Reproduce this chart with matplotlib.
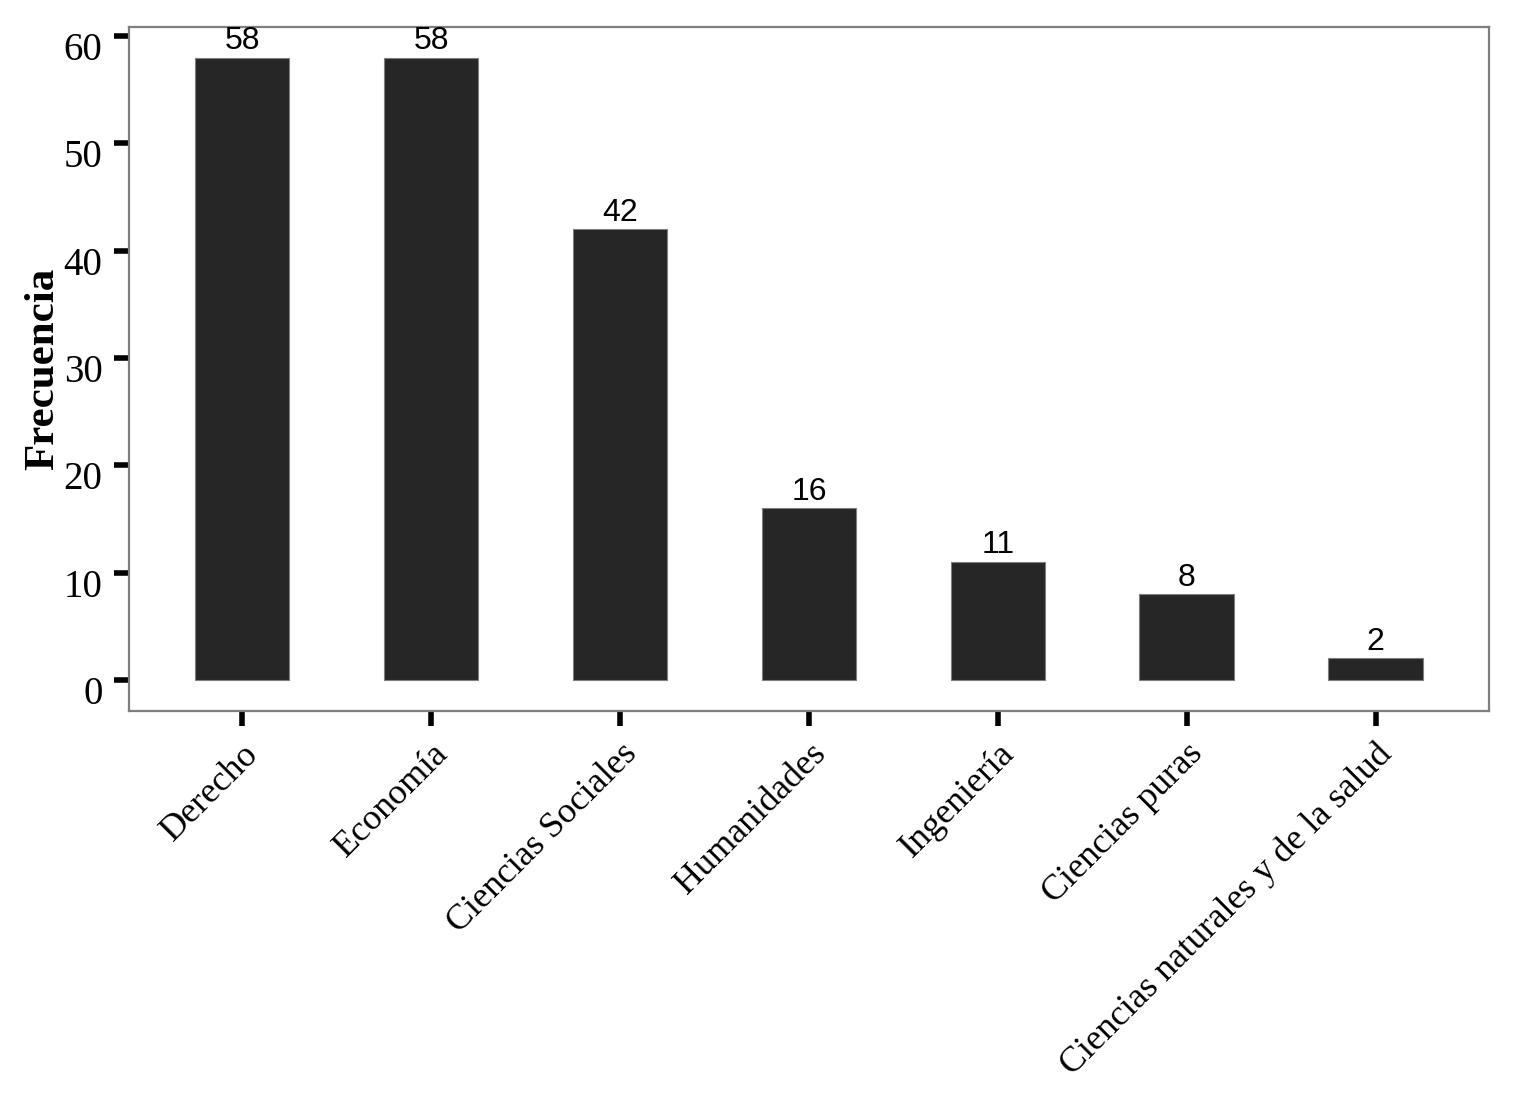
"""
Bar chart: frecuencia por área de estudio.
"""

import matplotlib.pyplot as plt
from matplotlib.transforms import ScaledTranslation

# Data
categorias = ['Derecho', 'Economía', 'Ciencias Sociales', 'Humanidades',
              'Ingeniería', 'Ciencias puras',
              'Ciencias naturales y de la salud']
frecuencias = [58, 58, 42, 16, 11, 8, 2]
y_ticks = [0, 10, 20, 30, 40, 50, 60]

fig = plt.figure(figsize=(15.17, 10.95), dpi=100)
ax = fig.add_axes([0.085, 0.3507, 0.8965, 0.6246])

# Bars
bars = ax.bar(range(len(categorias)), frecuencias, width=0.5,
              color='#262626', edgecolor='#7f7f7f', linewidth=0.8)
ax.bar_label(bars, labels=[str(v) for v in frecuencias], padding=1,
             fontsize=23, family='Liberation Sans', color='black')

ax.set_xlim(-0.6, 6.6)
ax.set_ylim(-2.9, 60.85)
ax.set_yticks(y_ticks)
ax.set_xticks(range(len(categorias)))
ax.set_xticklabels(categorias, rotation=45, ha='right',
                   rotation_mode='anchor', family='Liberation Serif',
                   fontsize=26)

ax.tick_params(axis='both', direction='out', length=11, width=4,
               color='black')
ax.tick_params(axis='x', pad=8)
ax.tick_params(axis='y', pad=8)

# y labels sit a bit below their ticks, like the original
# (done after tick_params, which resets label transforms)
offset = ScaledTranslation(0, -10 / 100, fig.dpi_scale_trans)
for lbl in ax.get_yticklabels():
    lbl.set_family('Liberation Serif')
    lbl.set_fontsize(28)
    lbl.set_transform(lbl.get_transform() + offset)

ax.set_ylabel('Frecuencia', family='Liberation Serif', fontweight='bold',
              fontsize=31, labelpad=1)

# Grey frame
for spine in ax.spines.values():
    spine.set_color('#7f7f7f')
    spine.set_linewidth(1.6)

plt.savefig('out.png', dpi=100)
